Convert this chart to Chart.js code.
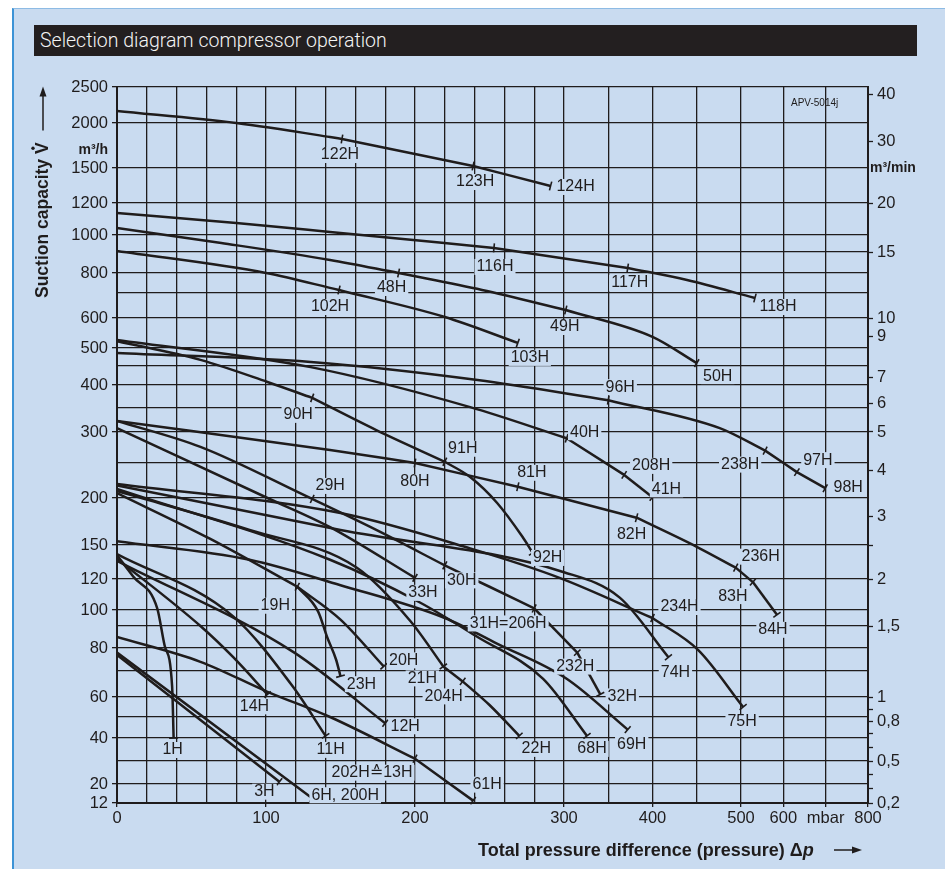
<!DOCTYPE html>
<html>
<head>
<meta charset="utf-8">
<title>Selection diagram compressor operation</title>
<script src="https://cdn.jsdelivr.net/npm/chart.js@4.4.1/dist/chart.umd.min.js"></script>
<style>
  html, body { margin: 0; padding: 0; background: #fff; }
  body { width: 945px; height: 869px; position: relative; overflow: hidden; }
  .panel { position: absolute; left: 12px; top: 8px; right: 0; bottom: 0; background: #c9dbf0; border-left: 2px solid #3c93d6; border-top: 1px solid #8dbbe4; }
  .title { position: absolute; left: 34px; top: 25px; width: 883px; height: 31px; background: #231f20; color: #f4f4f4;
           font: 300 19.5px Roboto, 'Liberation Sans', sans-serif; line-height: 31px; padding-left: 6px; box-sizing: border-box; }
  #chart { position: absolute; left: 0; top: 0; }
</style>
</head>
<body>
<div class="panel"></div>
<div class="title">Selection diagram compressor operation</div>
<canvas id="chart" width="945" height="869"></canvas>
<script>
// ---- axes ----
const xGrid = [0, 20, 40, 60, 80, 100, 120, 140, 160, 180, 200, 220, 240, 260, 280, 300, 350, 400, 450, 500, 600, 700, 800];
const xTickLabels = { 0: '0', 100: '100', 200: '200', 300: '300', 400: '400', 500: '500', 600: '600', 700: 'mbar', 800: '800' };
const yGrid = [12, 20, 30, 40, 50, 60, 70, 80, 90, 100, 120, 150, 200, 250, 300, 350, 400, 450, 500, 600, 700, 800, 900, 1000, 1200, 1500, 2000, 2500];
const yTickLabels = [12, 20, 40, 60, 80, 100, 120, 150, 200, 300, 400, 500, 600, 800, 1000, 1200, 1500, 2000, 2500];
const y2TickLabels = [0.2, 0.5, 0.8, 1, 1.5, 2, 3, 4, 5, 6, 7, 9, 10, 15, 20, 30, 40];
const y2MinorTicks = [0.3, 0.4, 0.6, 0.7, 0.9, 2.5];

// non-linear scale of the printed diagram: [value, position along the axis]
const xKnots = [[0, 0], [300, 447], [500, 624], [800, 751]];
const yKnots = [[12, 0], [20, 19], [30, 42], [40, 65], [50, 86], [60, 106], [70, 132], [80, 155], [90, 177],
  [100, 193], [120, 224], [150, 258], [200, 305], [250, 340], [300, 371], [350, 395], [400, 418], [450, 437],
  [500, 455], [600, 485], [700, 510], [800, 530], [900, 551], [1000, 568], [1200, 600], [1500, 635], [2000, 680], [2500, 716]];

// ---- curves: [mbar, m3/h] ----
const c122H = [[0, 2167], [80, 2000], [143, 1844], [151, 1822]];
const c123H = [[151, 1822], [200, 1656], [239, 1522]];
const c124H = [[239, 1522], [291, 1346]];
const c116H = [[0, 1138], [80, 1075], [143, 1019], [253, 924]];
const c117H = [[253, 924], [372, 824]];
const c118H = [[372, 824], [439, 765], [533, 680]];
const c48H = [[0, 1044], [70, 953], [143, 862], [189, 800]];
const c49H = [[189, 800], [245, 715], [302, 632]];
const c50H = [[302, 632], [400, 537], [450, 458]];
const c102H = [[0, 906], [100, 800], [149, 715]];
const c103H = [[149, 715], [220, 604], [269, 517]];
const c90H = [[0, 523], [56, 467], [101, 408], [131, 372]];
const c91H = [[131, 372], [174, 304], [220, 252]];
const c92H = [[220, 252], [237, 230], [255, 195], [272, 159], [279, 143]];
const c96H = [[0, 486], [130, 461], [242, 413], [350, 367]];
const c238H = [[350, 367], [476, 308], [557, 270]];
const c97H = [[557, 270], [632, 237]];
const c98H = [[632, 237], [699, 214]];
const c40H = [[0, 527], [130, 447], [237, 352], [303, 290]];
const c208H = [[303, 290], [368, 233]];
const c41H = [[368, 233], [400, 201]];
const c80H = [[0, 323], [143, 271], [200, 250]];
const c81H = [[200, 250], [269, 216]];
const c82H = [[269, 216], [382, 179]];
const c236H = [[382, 179], [451, 148], [494, 130]];
const c83H = [[494, 130], [528, 118]];
const c84H = [[528, 118], [585, 97]];
const c29H = [[0, 323], [56, 276], [131, 199]];
const c30H = [[131, 199], [174, 166], [220, 132]];
const c31H = [[220, 132], [250, 115], [280, 101]];
const c232H = [[280, 101], [315, 78]];
const c32H = [[315, 78], [341, 61]];
const c33H = [[0, 308], [101, 200], [143, 169], [200, 121]];
const c234H = [[0, 220], [150, 184], [237, 147], [297, 121], [400, 95]];
const c75H = [[400, 95], [452, 79], [505, 55]];
const c74H = [[0, 218], [150, 166], [300, 126], [363, 108], [418, 76]];
const c68H = [[0, 213], [143, 137], [203, 105], [242, 85], [286, 67], [326, 41]];
const c69H = [[0, 154], [89, 137], [150, 116], [220, 95], [255, 82], [303, 67], [372, 44]];
const c21H = [[0, 210], [89, 166], [161, 130], [197, 93], [219, 72]];
const c204H = [[219, 72], [232, 66]];
const c22H = [[232, 66], [250, 56], [270, 41]];
const c19H = [[0, 207], [62, 157], [121, 115]];
const c20H = [[121, 115], [150, 94], [179, 72]];
const c23H = [[121, 115], [135, 99], [141, 85], [147, 75], [150, 68]];
const c1H = [[0, 141], [11, 122], [27, 101], [32, 81], [37, 64], [38, 40]];
const c11H = [[0, 142], [78, 96], [118, 64], [140, 41]];
const c12H = [[0, 136], [119, 78], [180, 47]];
const c14H = [[0, 138], [56, 90], [78, 76], [101, 61]];
const c13H = [[0, 85], [56, 74], [101, 62], [143, 50], [200, 31]];
const c61H = [[200, 31], [239, 13]];
const c6H = [[0, 78], [131, 14]];
const c3H = [[0, 77], [109, 21]];

const curves = {
  '122H': c122H, '123H': c123H, '124H': c124H, '116H': c116H, '117H': c117H, '118H': c118H,
  '48H': c48H, '49H': c49H, '50H': c50H, '102H': c102H, '103H': c103H,
  '90H': c90H, '91H': c91H, '92H': c92H, '96H': c96H, '238H': c238H, '97H': c97H, '98H': c98H,
  '40H': c40H, '208H': c208H, '41H': c41H, '80H': c80H, '81H': c81H, '82H': c82H,
  '236H': c236H, '83H': c83H, '84H': c84H, '29H': c29H, '30H': c30H, '31H=206H': c31H,
  '232H': c232H, '32H': c32H, '33H': c33H, '234H': c234H, '75H': c75H, '74H': c74H,
  '68H': c68H, '69H': c69H, '21H': c21H, '204H': c204H, '22H': c22H, '19H': c19H, '20H': c20H,
  '23H': c23H, '1H': c1H, '11H': c11H, '12H': c12H, '14H': c14H, '202H≙13H': c13H, '61H': c61H,
  '6H, 200H': c6H, '3H': c3H,
};

// label placement relative to the end of each curve (px)
const labelOffsets = {
  '122H': [-2, 16], '123H': [2, 16], '124H': [25, 1], '116H': [1, 19], '117H': [2, 15], '118H': [23, 9],
  '48H': [-7, 15], '49H': [-1, 17], '50H': [21, 13], '102H': [-9, 17], '103H': [12, 15],
  '90H': [-14, 17], '91H': [18, -13], '92H': [15, 5], '96H': [12, -13], '238H': [-25, 14], '97H': [21, -12],
  '98H': [23, -1], '40H': [18, -6], '208H': [27, -9], '41H': [14, -8], '80H': [0, 19], '81H': [14, -14],
  '82H': [-5, 17], '236H': [25, -11], '83H': [-20, 14], '84H': [-4, 15], '29H': [18, -13], '30H': [17, 15],
  '31H=206H': [-26, 15], '232H': [-2, 14], '32H': [22, 2], '33H': [8, 15], '234H': [27, -11], '75H': [-1, 15],
  '74H': [7, 15], '68H': [5, 13], '69H': [4, 15], '21H': [-21, 12], '204H': [-19, 15], '22H': [17, 13],
  '19H': [-22, 19], '20H': [20, -6], '23H': [21, 8], '1H': [-1, 12], '11H': [5, 14], '12H': [20, 3],
  '14H': [-13, 12], '202H≙13H': [-43, 14], '61H': [14, -16], '6H, 200H': [33, -3], '3H': [-15, 10],
};

const INK = '#1f1c1c';
const BG = '#c9dbf0';
const FONT = '"Liberation Sans", Arial, "DejaVu Sans", sans-serif';

// ---- custom piecewise scale ----
const scaleMaps = {
  x: { knots: xKnots, factor: 1 },
  y: { knots: yKnots, factor: 1 },
  y2: { knots: yKnots, factor: 60 },
};

const toPos = (knots, v) => {
  for (let i = 1; i < knots.length; i++) {
    const [v0, p0] = knots[i - 1];
    const [v1, p1] = knots[i];
    if (v <= v1 || i === knots.length - 1) {
      return p0 + (v - v0) / (v1 - v0) * (p1 - p0);
    }
  }
  return 0;
};

const toValue = (knots, p) => {
  for (let i = 1; i < knots.length; i++) {
    const [v0, p0] = knots[i - 1];
    const [v1, p1] = knots[i];
    if (p <= p1 || i === knots.length - 1) {
      return v0 + (p - p0) / (p1 - p0) * (v1 - v0);
    }
  }
  return 0;
};

class KnotScale extends Chart.LinearScale {
  getPixelForValue(value) {
    if (value === null || value === undefined || isNaN(value)) {
      return NaN;
    }
    const map = scaleMaps[this.id];
    const span = map.knots[map.knots.length - 1][1];
    return this.getPixelForDecimal(toPos(map.knots, value * map.factor) / span);
  }

  getValueForPixel(pixel) {
    const map = scaleMaps[this.id];
    const span = map.knots[map.knots.length - 1][1];
    return toValue(map.knots, this.getDecimalForPixel(pixel) * span) / map.factor;
  }
}
KnotScale.id = 'knot';
KnotScale.defaults = Chart.LinearScale.defaults;
Chart.register(KnotScale);

const tickFont = { family: FONT, size: 16.5 };

const drawArrow = (ctx, x0, y0, x1, y1) => {
    const ang = Math.atan2(y1 - y0, x1 - x0);
    ctx.beginPath();
    ctx.moveTo(x0, y0);
    ctx.lineTo(x1 - Math.cos(ang) * 8, y1 - Math.sin(ang) * 8);
    ctx.stroke();
    ctx.beginPath();
    ctx.moveTo(x1, y1);
    ctx.lineTo(x1 - Math.cos(ang) * 10 - Math.sin(ang) * 3.5, y1 - Math.sin(ang) * 10 + Math.cos(ang) * 3.5);
    ctx.lineTo(x1 - Math.cos(ang) * 10 + Math.sin(ang) * 3.5, y1 - Math.sin(ang) * 10 - Math.cos(ang) * 3.5);
    ctx.closePath();
    ctx.fill();
};

const curveDecor = {
    id: 'curveDecor',
    afterDatasetsDraw(chart) {
        const { ctx } = chart;
        ctx.save();
        chart.data.datasets.forEach((ds, i) => {
            const pts = chart.getDatasetMeta(i).data;
            const a = pts[pts.length - 2];
            const b = pts[pts.length - 1];
            const ang = Math.atan2(b.y - a.y, b.x - a.x);
            const dx = -Math.sin(ang) * 4.5;
            const dy = Math.cos(ang) * 4.5;
            ctx.strokeStyle = INK;
            ctx.lineWidth = 1.6;
            ctx.beginPath();
            ctx.moveTo(b.x - dx, b.y - dy);
            ctx.lineTo(b.x + dx, b.y + dy);
            ctx.stroke();

            const off = labelOffsets[ds.label] || [0, 14];
            ctx.font = `16px ${FONT}`;
            ctx.textAlign = 'center';
            ctx.textBaseline = 'middle';
            const w = ctx.measureText(ds.label).width;
            const lx = b.x + off[0];
            const ly = b.y + off[1];
            ctx.fillStyle = BG;
            ctx.fillRect(lx - w / 2 - 2, ly - 8, w + 4, 16);
            ctx.fillStyle = INK;
            ctx.fillText(ds.label, lx, ly);
        });
        ctx.restore();
    },
    afterDraw(chart) {
        const { ctx } = chart;
        ctx.save();
        ctx.fillStyle = INK;
        ctx.strokeStyle = INK;

        // x axis title
        ctx.font = `bold 18px ${FONT}`;
        ctx.textAlign = 'left';
        ctx.textBaseline = 'alphabetic';
        const xt = 'Total pressure difference (pressure) Δ';
        ctx.fillText(xt, 478, 856);
        const xw = ctx.measureText(xt).width;
        ctx.font = `bold italic 18px ${FONT}`;
        ctx.fillText('p', 478 + xw, 856);
        ctx.lineWidth = 1.5;
        drawArrow(ctx, 834, 850, 862, 850);

        // y axis title (rotated)
        ctx.save();
        ctx.translate(43, 298);
        ctx.rotate(-Math.PI / 2);
        ctx.font = `bold 17.5px ${FONT}`;
        ctx.textBaseline = 'middle';
        const yt = 'Suction capacity ';
        ctx.fillText(yt, 0, 0);
        const yw = ctx.measureText(yt).width;
        ctx.fillText('V', yw, 0);
        const vw = ctx.measureText('V').width;
        ctx.beginPath();
        ctx.arc(yw + vw / 2, -10, 1.7, 0, Math.PI * 2);
        ctx.fill();
        ctx.lineWidth = 1.5;
        drawArrow(ctx, yw + vw + 12, 0, yw + vw + 56, 0);
        ctx.restore();

        // unit labels
        ctx.font = `bold 14px ${FONT}`;
        ctx.textBaseline = 'middle';
        ctx.textAlign = 'right';
        ctx.fillText('m³/h', 108, 150);
        ctx.textAlign = 'left';
        ctx.fillText('m³/min', 870, 168);

        ctx.font = `10px ${FONT}`;
        ctx.fillText('APV-5014j', 791, 103);
        ctx.restore();
    },
};

const datasets = Object.keys(curves).map((name) => ({
    label: name,
    data: curves[name].map(([x, y]) => ({ x, y })),
    borderColor: INK,
    borderWidth: 2.5,
    pointRadius: 0,
    cubicInterpolationMode: 'monotone',
    xAxisID: 'x',
    yAxisID: 'y',
}));

const gridStyle = (labelled) => ({
    color: INK,
    lineWidth: 1.3,
    drawTicks: true,
    tickLength: 5,
    tickWidth: 1.3,
    tickColor: (ctx) => (ctx.tick && labelled(ctx.tick.value) ? INK : 'rgba(0,0,0,0)'),
});

new Chart(document.getElementById('chart'), {
    type: 'line',
    data: { datasets },
    options: {
        responsive: false,
        animation: false,
        events: [],
        layout: { padding: { top: 87, left: 0, right: 0, bottom: 0 } },
        plugins: { legend: { display: false }, tooltip: { enabled: false }, title: { display: false } },
        scales: {
            x: {
                type: 'knot',
                position: 'bottom',
                min: 0,
                max: 800,
                afterBuildTicks: (s) => { s.ticks = xGrid.map((v) => ({ value: v })); },
                afterFit: (s) => { s.height = 66; },
                grid: { ...gridStyle((v) => v in xTickLabels), tickLength: 4 },
                border: { display: true, color: INK, width: 2 },
                ticks: {
                    autoSkip: false, maxRotation: 0, minRotation: 0, padding: 2,
                    font: tickFont, color: INK,
                    callback: (v) => xTickLabels[v] ?? '',
                },
            },
            y: {
                type: 'knot',
                position: 'left',
                min: 12,
                max: 2500,
                afterBuildTicks: (s) => { s.ticks = yGrid.map((v) => ({ value: v })); },
                afterFit: (s) => { s.width = 117; },
                grid: gridStyle((v) => yTickLabels.includes(v)),
                border: { display: true, color: INK, width: 2 },
                ticks: {
                    autoSkip: false, padding: 4, font: tickFont, color: INK,
                    callback: (v) => (yTickLabels.includes(v) ? String(v) : ''),
                },
            },
            y2: {
                type: 'knot',
                position: 'right',
                min: 0.2,
                max: 2500 / 60,
                afterBuildTicks: (s) => { s.ticks = [...y2TickLabels, ...y2MinorTicks].map((v) => ({ value: v })); },
                afterFit: (s) => { s.width = 77; },
                grid: { drawOnChartArea: false, drawTicks: true, tickLength: 5, tickWidth: 1.3, tickColor: INK },
                border: { display: true, color: INK, width: 2 },
                ticks: {
                    autoSkip: false, padding: 4, font: tickFont, color: INK,
                    callback: (v) => (y2TickLabels.includes(v) ? String(v).replace('.', ',') : ''),
                },
            },
        },
    },
    plugins: [curveDecor],
});
</script>
</body>
</html>
